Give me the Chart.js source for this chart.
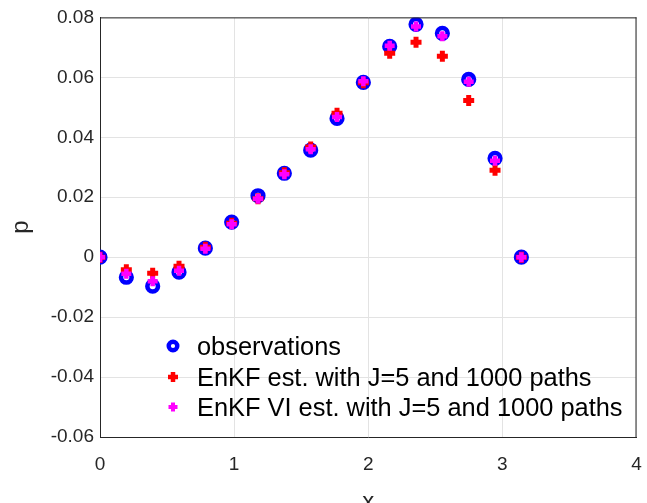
<!DOCTYPE html>
<html>
<head>
<meta charset="utf-8">
<script src="https://cdn.jsdelivr.net/npm/chart.js@4/dist/chart.umd.min.js"></script>
<style>
  html, body { margin: 0; padding: 0; background: #fff; }
  #wrap { width: 647px; height: 503px; }
</style>
</head>
<body>
<div id="wrap"><canvas id="chart" width="647" height="503"></canvas></div>
<script>
// grid points x_k = k*pi/16, k = 0..16
const xs = [0, 1, 2, 3, 4, 5, 6, 7, 8, 9, 10, 11, 12, 13, 14, 15, 16].map(k => k * Math.PI / 16);

const observations = [0, -0.0067, -0.0097, -0.005, 0.003, 0.0117, 0.0205, 0.028, 0.0357, 0.0463,
                      0.0583, 0.0703, 0.0777, 0.0747, 0.0593, 0.033, 0];
const enkf = [0, -0.0042, -0.0054, -0.003, 0.0033, 0.0113, 0.0195, 0.0282, 0.0368, 0.048,
              0.0582, 0.068, 0.0717, 0.067, 0.0523, 0.029, 0];
const enkfVI = [0, -0.0055, -0.008, -0.0045, 0.0028, 0.011, 0.0195, 0.0277, 0.036, 0.0468,
                0.0587, 0.0705, 0.077, 0.0737, 0.0585, 0.0322, 0];

const xTicks = [0, 1, 2, 3, 4];
const yTicks = [-0.06, -0.04, -0.02, 0, 0.02, 0.04, 0.06, 0.08];

const labels = ['observations', 'EnKF est. with J=5 and 1000 paths', 'EnKF VI est. with J=5 and 1000 paths'];

const toPoints = ys => xs.map((x, i) => ({ x: x, y: ys[i] }));

const FONT = '"Liberation Sans", Arial, sans-serif';

// legend drawn inside the axes, no frame
const legendInside = {
  id: 'legendInside',
  afterDatasetsDraw(chart) {
    const ctx = chart.ctx;
    const rows = [346, 377, 407];
    const mx = 173;
    ctx.save();
    ctx.font = '25.4px ' + FONT;
    ctx.textBaseline = 'middle';
    chart.data.datasets.forEach((ds, i) => {
      const y = rows[i];
      if (i === 0) {
        ctx.beginPath();
        ctx.arc(mx, y, 4.3, 0, Math.PI * 2);
        ctx.fillStyle = '#fff';
        ctx.fill();
        ctx.lineWidth = 4.4;
        ctx.strokeStyle = ds.borderColor;
        ctx.stroke();
      } else {
        const r = i === 1 ? 5 : 4.5;
        ctx.lineWidth = i === 1 ? 4.5 : 4;
        ctx.strokeStyle = ds.borderColor;
        ctx.beginPath();
        ctx.moveTo(mx - r, y); ctx.lineTo(mx + r, y);
        ctx.moveTo(mx, y - r); ctx.lineTo(mx, y + r);
        ctx.stroke();
      }
      ctx.fillStyle = '#000';
      ctx.fillText(ds.label, 197, y + 2);
    });
    ctx.restore();
  }
};

// box around the axes
const axesBox = {
  id: 'axesBox',
  afterDraw(chart) {
    const a = chart.chartArea;
    const ctx = chart.ctx;
    ctx.save();
    ctx.strokeStyle = '#262626';
    ctx.lineWidth = 1;
    ctx.beginPath();
    ctx.moveTo(a.left, a.top + 0.5);
    ctx.lineTo(a.right, a.top + 0.5);
    ctx.moveTo(a.right - 0.5, a.top);
    ctx.lineTo(a.right - 0.5, a.bottom);
    ctx.stroke();
    ctx.restore();
  }
};

new Chart(document.getElementById('chart'), {
  type: 'scatter',
  data: {
    datasets: [
      {
        label: labels[0],
        data: toPoints(observations),
        pointStyle: 'circle',
        pointRadius: 5.3,
        borderWidth: 4.6,
        borderColor: '#0000ff',
        backgroundColor: '#ffffff',
        order: 3
      },
      {
        label: labels[1],
        data: toPoints(enkf),
        pointStyle: 'cross',
        pointRadius: 5.5,
        borderWidth: 5,
        borderColor: '#ff0000',
        backgroundColor: '#ff0000',
        order: 2
      },
      {
        label: labels[2],
        data: toPoints(enkfVI),
        pointStyle: 'cross',
        pointRadius: 5,
        borderWidth: 4.5,
        borderColor: '#ff00ff',
        backgroundColor: '#ff00ff',
        order: 1
      }
    ]
  },
  options: {
    responsive: false,
    animation: false,
    layout: { padding: { top: 17, right: 7, left: 0, bottom: 0 } },
    plugins: {
      legend: { display: false },
      tooltip: { enabled: false }
    },
    scales: {
      x: {
        type: 'linear',
        min: 0,
        max: 4,
        afterFit(scale) {
          scale.height = 66;
          scale.paddingLeft = 0;
          scale.paddingRight = 0;
        },
        afterBuildTicks(scale) { scale.ticks = xTicks.map(v => ({ value: v })); },
        grid: { color: '#e3e3e3', drawTicks: false, tickLength: 0 },
        border: { color: '#262626', width: 1 },
        ticks: {
          color: '#262626',
          font: { family: FONT, size: 19 },
          padding: 16,
          callback: v => String(v)
        },
        title: {
          display: true,
          text: 'x',
          color: '#262626',
          font: { family: FONT, size: 24 },
          padding: { top: 0, bottom: -14 }
        }
      },
      y: {
        type: 'linear',
        min: -0.06,
        max: 0.08,
        afterFit(scale) { scale.width = 100; },
        afterBuildTicks(scale) { scale.ticks = yTicks.map(v => ({ value: v })); },
        grid: { color: '#e3e3e3', drawTicks: false, tickLength: 0 },
        border: { color: '#262626', width: 1 },
        ticks: {
          color: '#262626',
          font: { family: FONT, size: 19 },
          padding: 6,
          callback: v => (Math.abs(v) < 1e-9 ? '0' : v.toFixed(2))
        },
        title: {
          display: true,
          text: 'p',
          color: '#262626',
          font: { family: FONT, size: 24 },
          padding: { top: 7, bottom: 0 }
        }
      }
    }
  },
  plugins: [legendInside, axesBox]
});
</script>
</body>
</html>
